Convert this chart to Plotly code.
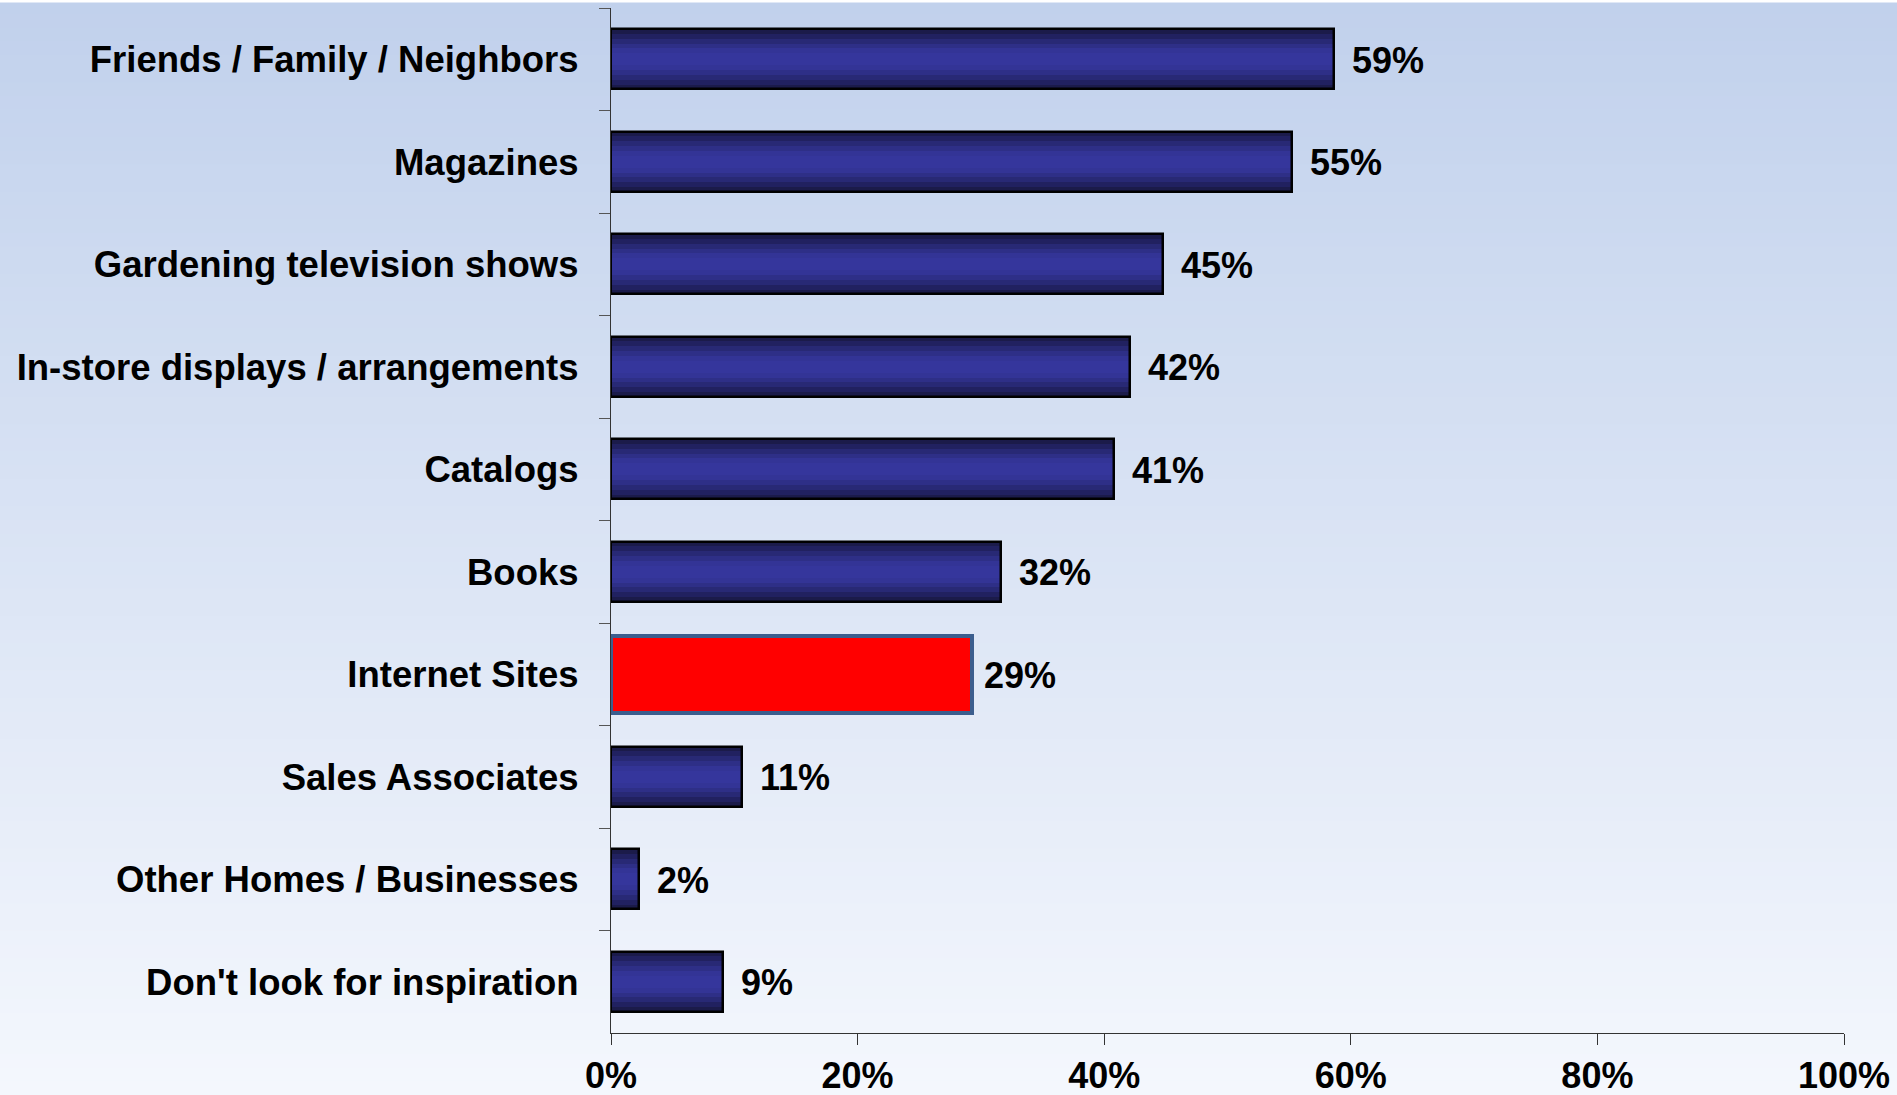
import plotly.graph_objects as go

# ---- data ----
categories = [
    "Friends / Family / Neighbors",
    "Magazines",
    "Gardening television shows",
    "In-store displays / arrangements",
    "Catalogs",
    "Books",
    "Internet Sites",
    "Sales Associates",
    "Other Homes / Businesses",
    "Don't look for inspiration",
]
values = [58.6, 55.2, 44.8, 42.1, 40.8, 31.6, 29.3, 10.6, 2.3, 9.1]
labels = ["59%", "55%", "45%", "42%", "41%", "32%", "29%", "11%", "2%", "9%"]
highlight = "Internet Sites"
x_ticks = [0, 20, 40, 60, 80, 100]
x_tick_text = ["0%", "20%", "40%", "60%", "80%", "100%"]

# ---- style ----
FONT = "Liberation Sans, Arial, sans-serif"
BASE_W = 0.59
HI_W = 0.75
grad_colors = ["#1b1b4a", "#212160", "#282975", "#2e2f87", "#333496", "#35369c"]
grad_scale = [1.0, 0.84, 0.68, 0.52, 0.36, 0.2]

fig = go.Figure()

# background vertical gradient
top_rgb = (0xC1, 0xD1, 0xEC)
bot_rgb = (0xF4, 0xF7, 0xFD)
H, W = 1095, 1897
L, R, T, B = 611, 53, 8, 62
ph = H - T - B
pw = W - L - R
n_strips = 80
shapes = []
for i in range(n_strips):
    f = i / (n_strips - 1)
    c = tuple(int(round(top_rgb[k] + (bot_rgb[k] - top_rgb[k]) * f)) for k in range(3))
    y_top_px = H * i / n_strips
    y_bot_px = H * (i + 1) / n_strips + 1
    shapes.append(dict(
        type="rect", xref="paper", yref="paper", layer="below",
        x0=-L / pw - 0.01, x1=1 + R / pw + 0.01,
        y0=1 - (y_bot_px - T) / ph, y1=1 - (y_top_px - T) / ph,
        fillcolor="rgb(%d,%d,%d)" % c, line=dict(width=0),
    ))
# thin white strip at very top
shapes.append(dict(type="rect", xref="paper", yref="paper", layer="below",
                   x0=-L / pw - 0.01, x1=1 + R / pw + 0.01,
                   y0=1 + (T - 2.5) / ph, y1=1 + (T + 2) / ph,
                   fillcolor="white", line=dict(width=0)))

reg_x = [v if c != highlight else None for c, v in zip(categories, values)]
hi_x = [v if c == highlight else None for c, v in zip(categories, values)]

# gradient layers for regular bars
for col, sc in zip(grad_colors, grad_scale):
    fig.add_trace(go.Bar(
        x=reg_x, y=categories, orientation="h",
        width=BASE_W * sc,
        marker=dict(color=col, line=dict(width=0)),
        hoverinfo="skip", showlegend=False,
    ))

# highlighted bar
fig.add_trace(go.Bar(
    x=hi_x, y=categories, orientation="h", width=HI_W,
    marker=dict(color="#ff0000", line=dict(color="#3c5e8e", width=4)),
    hoverinfo="skip", showlegend=False,
))

# outline for regular bars
fig.add_trace(go.Bar(
    x=reg_x, y=categories, orientation="h", width=BASE_W,
    marker=dict(color="rgba(0,0,0,0)", line=dict(color="#000000", width=2.5)),
    hoverinfo="skip", showlegend=False,
))

# value labels
annotations = []
for c, v, t in zip(categories, values, labels):
    annotations.append(dict(
        x=v, y=c, xref="x", yref="y", text=t, showarrow=False,
        xanchor="left", yanchor="middle",
        xshift=10 if c == highlight else 16, yshift=-1,
        font=dict(family=FONT, size=36, color="#000000", weight="bold"),
    ))

fig.update_layout(
    width=W, height=H,
    margin=dict(l=L, r=R, t=T, b=B, pad=0, autoexpand=False),
    paper_bgcolor="#dfe7f5",
    plot_bgcolor="rgba(0,0,0,0)",
    barmode="overlay",
    bargap=0,
    shapes=shapes,
    annotations=annotations,
    showlegend=False,
    xaxis=dict(
        range=[0, 100], tickvals=x_ticks, ticktext=x_tick_text,
        showgrid=False, zeroline=False, showline=True,
        linecolor="#333333", linewidth=1.3,
        ticks="outside", ticklen=11, tickcolor="#333333", tickwidth=1.3,
        ticklabelstandoff=0, automargin=False,
        tickfont=dict(family=FONT, size=36, color="#000000", weight="bold"),
        fixedrange=True,
    ),
    yaxis=dict(
        categoryorder="array", categoryarray=categories,
        range=[len(categories) - 0.5, -0.5],
        showgrid=False, zeroline=False, showline=True,
        linecolor="#333333", linewidth=1.3,
        ticks="outside", tickson="boundaries", ticklen=11,
        tickcolor="#555555", tickwidth=1.3,
        ticklabelstandoff=24, automargin=False,
        tickfont=dict(family=FONT, size=36.5, color="#000000", weight="bold"),
        fixedrange=True,
    ),
)

fig.write_html(
    "out.html",
    config={"displayModeBar": False},
    post_script="document.body.style.margin='0';document.body.style.overflow='hidden';",
)
